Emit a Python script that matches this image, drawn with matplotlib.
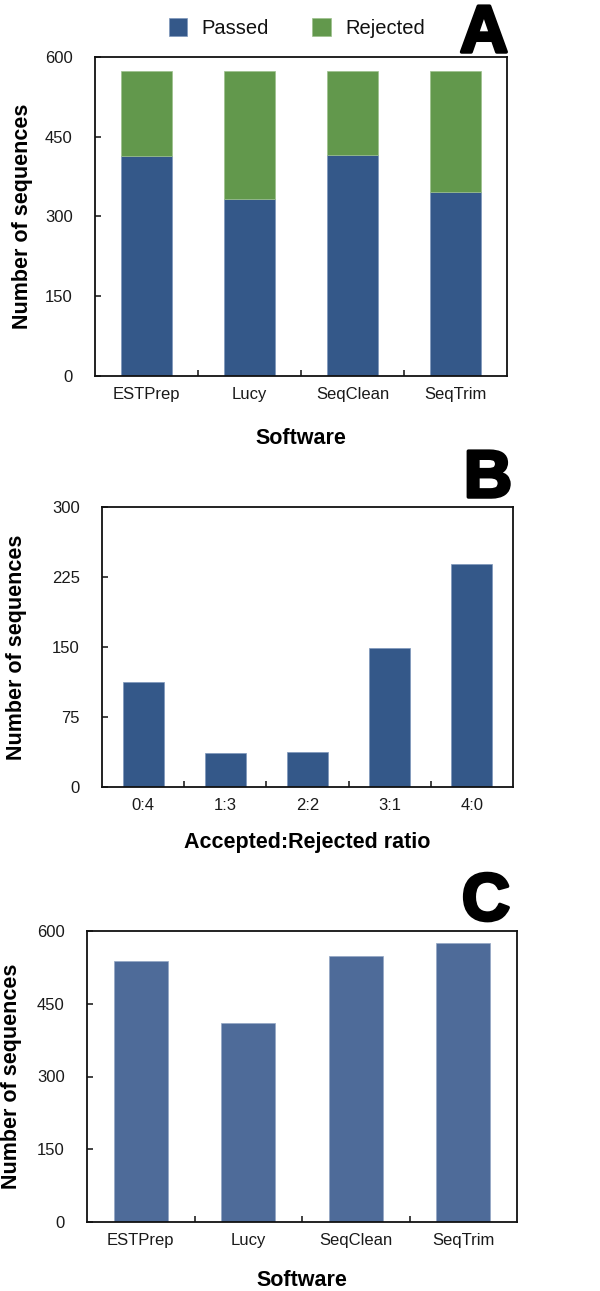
import matplotlib
matplotlib.use("Agg")
import numpy as np
import matplotlib.pyplot as plt
import matplotlib.patheffects as pe

# ── Data ─────────────────────────────────────────────────────────────────────
software = ["ESTPrep", "Lucy", "SeqClean", "SeqTrim"]
passed   = [413, 333, 416, 346]
rejected = [161, 241, 158, 228]

ratios      = ["0:4", "1:3", "2:2", "3:1", "4:0"]
ratio_count = [112, 36, 38, 149, 239]

software_c = ["ESTPrep", "Lucy", "SeqClean", "SeqTrim"]
counts_c   = [538, 411, 548, 575]

# ── Style ────────────────────────────────────────────────────────────────────
blue   = "#345889"
green  = "#62984c"
blue_c = "#4e6b99"
W, H = 600, 1291

plt.rcParams.update({
    "font.family": ["Liberation Sans", "DejaVu Sans"],
    "text.color": "#111111",
})

fig = plt.figure(figsize=(W / 100, H / 100), dpi=100)
fig.patch.set_facecolor("white")


def _axes(left, top, right, bottom):
    return fig.add_axes([left / W, 1 - bottom / H,
                         (right - left) / W, (bottom - top) / H])


def _style(ax, labels, ymax, step, xlabel, xl_y, yl_x):
    n = len(labels)
    ax.set_xlim(-0.5, n - 0.5)
    ax.set_ylim(0, ymax)
    ax.set_yticks(np.arange(0, ymax + 1, step))
    ax.set_xticks(range(n))
    ax.set_xticklabels(labels)
    ax.set_xticks(np.arange(0.5, n - 0.5, 1), minor=True)
    ax.tick_params(axis="x", which="major", length=0, pad=8,
                   labelsize=12, labelcolor="#1a1a1a")
    ax.tick_params(axis="x", which="minor", direction="in", length=4,
                   width=1.2, color="#222222")
    ax.tick_params(axis="y", direction="in", length=4, width=1.2,
                   pad=16, labelsize=12, labelcolor="#1a1a1a", color="#222222")
    for s in ax.spines.values():
        s.set_linewidth(1.3)
        s.set_color("#111111")
    ax.set_xlabel(xlabel, fontsize=15.5, fontweight="bold")
    ax.xaxis.set_label_coords(0.5, xl_y)
    ax.set_ylabel("Number of sequences", fontsize=15.5, fontweight="bold")
    ax.yaxis.set_label_coords(yl_x, 0.5)


def _panel_letter(letter, x_right, baseline):
    fig.text(x_right / W, 1 - baseline / H, letter, ha="right", va="baseline",
             fontsize=48, fontweight="bold", color="black",
             path_effects=[pe.withStroke(linewidth=2.5, foreground="black")])


# ── Panel A: stacked bars ────────────────────────────────────────────────────
ax = _axes(95, 57, 507, 376)
x = np.arange(len(software))
b1 = ax.bar(x, passed, width=0.5, color=blue, edgecolor="#7d96bb", lw=0.5,
            label="Passed")
b2 = ax.bar(x, rejected, width=0.5, bottom=passed, color=green,
            edgecolor="#9cc08c", lw=0.5, label="Rejected")
_style(ax, software, 600, 150, "Software", -0.163, -0.150)
fig.legend(handles=[b1, b2], loc="center", bbox_to_anchor=(297 / W, 1 - 28 / H),
           ncol=2, frameon=False, fontsize=14.5, handlelength=0.9,
           handleheight=1.0, handletextpad=0.75, columnspacing=2.15)
_panel_letter("A", 508, 52)

# ── Panel B: ratio distribution ──────────────────────────────────────────────
ax = _axes(102, 507, 513, 787)
ax.bar(range(len(ratios)), ratio_count, width=0.5, color=blue,
       edgecolor="#7d96bb", lw=0.5)
_style(ax, ratios, 300, 75, "Accepted:Rejected ratio", -0.161, -0.183)
_panel_letter("B", 512, 497)

# ── Panel C: totals per software ─────────────────────────────────────────────
ax = _axes(87, 931, 517, 1222)
ax.bar(range(len(software_c)), counts_c, width=0.5, color=blue_c,
       edgecolor="#93a6c4", lw=0.5)
_style(ax, software_c, 600, 150, "Software", -0.165, -0.150)
_panel_letter("C", 510, 920)

fig.savefig("out.png", dpi=100, facecolor="white")
